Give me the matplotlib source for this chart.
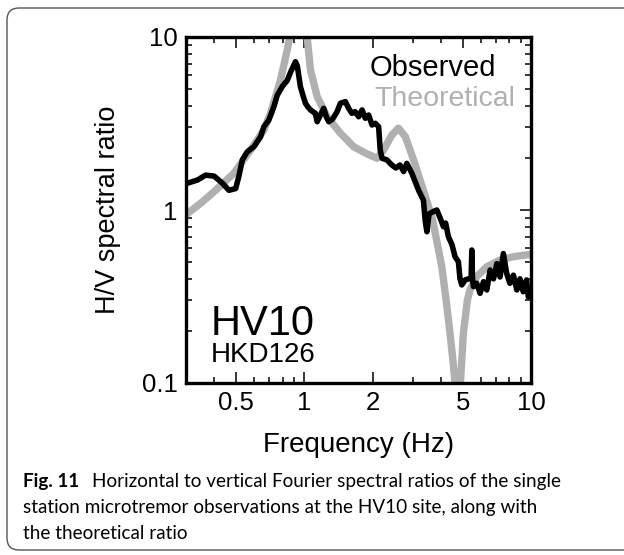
import matplotlib
matplotlib.use("Agg")
import matplotlib.pyplot as plt
import matplotlib.ticker as mtick
from matplotlib.patches import FancyBboxPatch

plt.rcParams["font.family"] = ["Liberation Sans", "DejaVu Sans"]

# observed H/V ratio (microtremor), frequency in Hz
obs_freq = [0.30, 0.337, 0.366, 0.399, 0.434, 0.464, 0.497, 0.513, 0.532, 0.559,
            0.598, 0.640, 0.662, 0.696, 0.733, 0.758, 0.80, 0.839, 0.87, 0.913,
            0.93, 0.96, 0.985, 1.01, 1.035, 1.063, 1.09, 1.118, 1.138, 1.176,
            1.216, 1.25, 1.28, 1.33, 1.393, 1.441, 1.516, 1.567, 1.62, 1.675,
            1.735, 1.796, 1.857, 1.92, 1.987, 2.054, 2.125, 2.16, 2.2, 2.31,
            2.43, 2.53, 2.64, 2.74, 2.83, 2.98, 3.08, 3.19, 3.35, 3.41,
            3.47, 3.55, 3.71, 3.84, 3.97, 4.11, 4.2, 4.32, 4.48, 4.62,
            4.78, 4.86, 4.95, 5.12, 5.30, 5.44, 5.48, 5.52, 5.57, 5.76,
            5.96, 6.17, 6.38, 6.60, 6.83, 7.07, 7.30, 7.55, 7.81, 8.07,
            8.36, 8.66, 8.94, 9.24, 9.56, 9.73, 10.0]
obs_hv = [1.42, 1.49, 1.59, 1.57, 1.43, 1.30, 1.33, 1.56, 1.95, 2.17,
          2.32, 2.65, 3.03, 3.31, 3.96, 4.6, 5.2, 5.6, 6.3, 7.2,
          6.8, 5.16, 4.6, 4.14, 3.95, 3.79, 3.70, 3.62, 3.24, 3.54,
          3.87, 3.45, 3.24, 3.35, 3.70, 4.14, 4.23, 3.87, 3.62, 3.70,
          3.46, 3.79, 3.39, 3.54, 3.10, 3.17, 3.03, 2.22, 1.99, 1.95,
          1.82, 1.75, 1.82, 1.67, 1.86, 1.63, 1.46, 1.30, 1.14, 0.875,
          0.749, 0.95, 0.98, 1.0, 0.90, 0.80, 0.84, 0.70, 0.63, 0.537,
          0.503, 0.40, 0.369, 0.394, 0.40, 0.40, 0.587, 0.40, 0.361, 0.377,
          0.33, 0.385, 0.345, 0.45, 0.40, 0.49, 0.41, 0.56, 0.43, 0.377,
          0.42, 0.345, 0.40, 0.337, 0.394, 0.315, 0.33]

# theoretical H/V ratio
th_freq = [0.30, 0.35, 0.399, 0.488, 0.578, 0.662, 0.708, 0.784, 0.839, 0.861,
           0.90, 0.94, 0.99, 1.028, 1.063, 1.138, 1.259, 1.441, 1.649, 1.889,
           2.09, 2.235, 2.43, 2.60, 2.79, 3.03, 3.35, 3.65, 3.78, 4.04,
           4.22, 4.39, 4.52, 4.62, 4.72, 4.88, 5.03, 5.24, 5.38, 5.76,
           6.38, 7.30, 8.36, 10.0]
th_hv = [0.94, 1.1, 1.276, 1.63, 2.22, 2.9, 3.62, 5.64, 8.4, 10.0,
         18.0, 30.0, 18.0, 10.0, 6.45, 4.52, 3.46, 2.78, 2.32, 2.11,
         1.99, 2.22, 2.71, 2.97, 2.65, 1.95, 1.30, 0.915, 0.733, 0.47,
         0.302, 0.194, 0.136, 0.1, 0.05, 0.1, 0.194, 0.302, 0.345, 0.412,
         0.47, 0.514, 0.537, 0.555]

xticks = [0.5, 1, 2, 5, 10]
xticklabels = ["0.5", "1", "2", "5", "10"]
yticks = [0.1, 1, 10]
yticklabels = ["0.1", "1", "10"]

grey = "#b0b0b0"

fig = plt.figure(figsize=(6.24, 5.55), dpi=100)
ax = fig.add_axes([186 / 624, 1 - 383 / 555, 345 / 624, 346 / 555])

ax.plot(th_freq, th_hv, color=grey, lw=5.3, solid_capstyle="butt", zorder=2)
ax.plot(obs_freq, obs_hv, color="black", lw=4.0, solid_joinstyle="round", zorder=3)

ax.set_xscale("log")
ax.set_yscale("log")
ax.set_xlim(0.3, 10)
ax.set_ylim(0.1, 10)

ax.xaxis.set_major_locator(mtick.FixedLocator(xticks))
ax.xaxis.set_major_formatter(mtick.FixedFormatter(xticklabels))
ax.xaxis.set_minor_locator(mtick.LogLocator(base=10, subs=range(2, 10)))
ax.xaxis.set_minor_formatter(mtick.NullFormatter())
ax.yaxis.set_major_locator(mtick.FixedLocator(yticks))
ax.yaxis.set_major_formatter(mtick.FixedFormatter(yticklabels))
ax.yaxis.set_minor_locator(mtick.LogLocator(base=10, subs=range(2, 10)))
ax.yaxis.set_minor_formatter(mtick.NullFormatter())

for s in ax.spines.values():
    s.set_linewidth(2.4)
ax.tick_params(which="both", direction="in", top=True, right=True, width=1.1)
ax.tick_params(which="major", length=8, labelsize=18.5, pad=6)
ax.tick_params(which="minor", length=4.5)

ax.set_xlabel("Frequency (Hz)", fontsize=20, va="center")
ax.xaxis.set_label_coords(0.5, -0.179)
ax.set_ylabel("H/V spectral ratio", fontsize=19.5, va="center")
ax.yaxis.set_label_coords(-0.226, 0.5)

ax.text(0.533, 0.887, "Observed", transform=ax.transAxes, fontsize=21,
        color="black", va="baseline", ha="left")
ax.text(0.545, 0.80, "Theoretical", transform=ax.transAxes, fontsize=20.5,
        color=grey, va="baseline", ha="left")
ax.text(0.072, 0.139, "HV10", transform=ax.transAxes, fontsize=30,
        va="baseline", ha="left")
ax.text(0.072, 0.061, "HKD126", transform=ax.transAxes, fontsize=20,
        va="baseline", ha="left")

# caption with bold figure number
cap_font = ["Lato", "DejaVu Sans"]
cap_size = 13.6
cap_x = 23 / 624
r = fig.canvas.get_renderer()
t = fig.text(cap_x, 1 - 487 / 555, "Fig. 11", fontsize=cap_size,
             family=cap_font, weight="bold", va="baseline")
bb = t.get_window_extent(r)
fig.text((bb.x1 + 13) / fig.bbox.width, 1 - 487 / 555,
         "Horizontal to vertical Fourier spectral ratios of the single",
         fontsize=cap_size, family=cap_font, va="baseline")
fig.text(cap_x, 1 - 513 / 555,
         "station microtremor observations at the HV10 site, along with",
         fontsize=cap_size, family=cap_font, va="baseline")
fig.text(cap_x, 1 - 539 / 555, "the theoretical ratio",
         fontsize=cap_size, family=cap_font, va="baseline")

# rounded frame around figure and caption
frame = FancyBboxPatch((0.07, 0.05), 6.4, 5.42,
                       boxstyle="round,pad=0,rounding_size=0.12",
                       transform=fig.dpi_scale_trans, fill=False,
                       edgecolor="#555555", lw=1.0)
fig.patches.append(frame)

fig.savefig("out.png", dpi=100)
